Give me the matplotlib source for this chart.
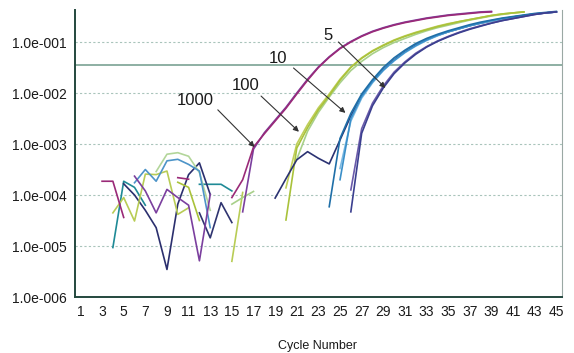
import numpy as np
import matplotlib.pyplot as plt

nan = np.nan

# amplification curves, log10 of fluorescence, one value per cycle from the start cycle
# 1000 copies
m1000a_start = 3
m1000a_log = [-3.73, -3.73, -4.44, nan, nan, nan, nan, -3.66, -3.69, nan, nan, nan,
              -4.05, -3.7, -3.06, -2.8, -2.55, -2.3, -2.02, -1.75, -1.5, -1.3, -1.13,
              -1.0, -0.89, -0.8, -0.73, -0.67, -0.62, -0.58, -0.54, -0.51, -0.48, -0.46,
              -0.44, -0.42, -0.41]
p1000b_start = 6
p1000b_log = [-3.63, -3.92, -4.35, -3.89, -4.05, -4.2, -5.29, -3.99, nan, nan, -4.33, -3.1,
              -2.78, -2.53, -2.28, -2.0, -1.73, -1.49, -1.29, -1.12, -0.99, -0.88, -0.79,
              -0.72, -0.66, -0.61, -0.57, -0.53, -0.5, -0.47, -0.45, -0.43, -0.41, -0.4]

# 100 copies
y100a_start = 20
y100a_log = [-4.49, -3.08, -2.68, -2.33, -2.05, -1.75, -1.5, -1.32, -1.18, -1.07, -0.97,
             -0.89, -0.82, -0.76, -0.7, -0.65, -0.6, -0.56, -0.52, -0.48, -0.45, -0.43, -0.41]
y100b_start = 20
y100b_log = [-3.86, -3.0, -2.62, -2.29, -2.02, -1.73, -1.49, -1.31, -1.17, -1.06, -0.96,
             -0.88, -0.81, -0.75, -0.69, -0.64, -0.6, -0.56, -0.52, -0.48, -0.45, -0.43, -0.41]
g100c_start = 15
g100c_log = [-4.18, -4.05, -3.93, nan, nan, nan, -3.3, -2.75, -2.38, -2.08, -1.8, -1.56,
             -1.38, -1.23, -1.11, -1.01, -0.93, -0.85, -0.78, -0.72, -0.67, -0.62, -0.57,
             -0.53, -0.49, -0.46, -0.43, -0.41]

# 10 copies
b10a_start = 24
b10a_log = [-4.23, -2.89, -2.4, -2.02, -1.74, -1.5, -1.31, -1.16, -1.03, -0.93, -0.85,
            -0.78, -0.72, -0.66, -0.61, -0.57, -0.53, -0.5, -0.47, -0.44, -0.42, -0.4]
lb10b_start = 25
lb10b_log = [-3.48, -2.55, -2.1, -1.8, -1.56, -1.37, -1.21, -1.08, -0.97, -0.88, -0.8,
             -0.74, -0.68, -0.63, -0.59, -0.55, -0.51, -0.48, -0.45, -0.43, -0.41]
mb10c_start = 25
mb10c_log = [-3.7, -2.5, -2.07, -1.78, -1.55, -1.36, -1.2, -1.07, -0.96, -0.87, -0.8,
             -0.74, -0.68, -0.63, -0.58, -0.54, -0.51, -0.48, -0.45, -0.43, -0.41]
n10d_start = 19
n10d_log = [-4.06, -3.68, -3.31, -3.15, -3.28, -3.39, -2.92, -2.45, -2.06, -1.77, -1.54,
            -1.35, -1.19, -1.06, -0.96, -0.87, -0.8, -0.74, -0.68, -0.63, -0.59, -0.55,
            -0.51, -0.48, -0.45, -0.43, -0.41]

# 5 copies
n5a_start = 26
n5a_log = [-4.33, -2.79, -2.25, -1.9, -1.62, -1.41, -1.24, -1.1, -0.99, -0.9, -0.82,
           -0.75, -0.69, -0.63, -0.58, -0.54, -0.5, -0.46, -0.43, -0.41]
v5b_start = 26
v5b_log = [-3.9, -2.7, -2.2, -1.86, -1.59, -1.39, -1.22, -1.09, -0.98, -0.89, -0.81,
           -0.74, -0.68, -0.63, -0.58, -0.54, -0.5, -0.46, -0.43, -0.41]

# baseline noise
teal_start = 4
teal_log = [-5.03, -3.73, -3.85, -4.2, nan, nan, nan, nan, -3.79, -3.79, -3.79, -3.92]
navy_start = 5
navy_log = [-3.78, -4.0, -4.3, -4.64, -5.46, -4.18, -3.6, -3.37, -3.99]
navy2_start = 12
navy2_log = [-4.35, -4.84, -4.15, -4.54]
yg_start = 4
yg_log = [-4.35, -4.05, -4.51, -3.59, -3.6, -3.53, -4.38, -4.25, nan, nan, nan, -5.3, -3.95]
yg2_start = 10
yg2_log = [-3.75, -3.85, -4.5]
lg_start = 8
lg_log = [-3.54, -3.2, -3.17, -3.24, -3.56, -4.3]
bl_start = 6
bl_log = [-3.76, -3.5, -3.73, -3.33, -3.3, -3.4, -3.53, -4.64]

threshold = 0.035

curves = [
    (teal_start, teal_log, '#1f8a96'),
    (navy_start, navy_log, '#2b2f6e'),
    (navy2_start, navy2_log, '#2f3470'),
    (yg_start, yg_log, '#b8cc55'),
    (yg2_start, yg2_log, '#a9c23a'),
    (lg_start, lg_log, '#b3d69a'),
    (bl_start, bl_log, '#4d94c8'),
    (g100c_start, g100c_log, '#a8d08a'),
    (y100b_start, y100b_log, '#c0cf5a'),
    (y100a_start, y100a_log, '#a9c23a'),
    (n10d_start, n10d_log, '#2b3272'),
    (lb10b_start, lb10b_log, '#7ab8e2'),
    (mb10c_start, mb10c_log, '#3a8fc9'),
    (b10a_start, b10a_log, '#1f6fa8'),
    (v5b_start, v5b_log, '#6a5aaa'),
    (n5a_start, n5a_log, '#3b3f8f'),
    (p1000b_start, p1000b_log, '#7b3f9e'),
    (m1000a_start, m1000a_log, '#9a2a78'),
]

plt.rcParams['font.family'] = ['Liberation Sans', 'DejaVu Sans']

fig = plt.figure(figsize=(5.74, 3.53), dpi=100)
ax = fig.add_axes([0.1307, 0.1586, 0.848, 0.813])

for start, vals, col in curves:
    x = np.arange(start, start + len(vals))
    ax.plot(x, 10 ** np.array(vals), color=col, linewidth=1.2, zorder=3)

ax.set_yscale('log')
ax.set_ylim(1e-6, 10 ** -0.373)
ax.set_xlim(0.5, 45.5)

decades = [1e-6, 1e-5, 1e-4, 1e-3, 1e-2, 1e-1]
ax.set_yticks(decades)
ax.set_yticklabels(['1.0e-006', '1.0e-005', '1.0e-004', '1.0e-003', '1.0e-002', '1.0e-001'])
ax.minorticks_off()
ax.set_xticks(range(1, 46, 2))
ax.tick_params(length=0, labelsize=10, colors='#1a1a1a', pad=6)

for d in decades[1:]:
    ax.axhline(d, color='#a9c4bb', linestyle=(0, (2, 2)), linewidth=0.8, zorder=1)
ax.axhline(threshold, color='#6f9a8a', linewidth=1.1, zorder=2)

ax.spines['top'].set_visible(False)
ax.spines['left'].set_color('#24483e')
ax.spines['left'].set_linewidth(1.4)
ax.spines['bottom'].set_color('#24483e')
ax.spines['bottom'].set_linewidth(1.4)
ax.spines['right'].set_color('#9aa8a4')

fig.text(0.554, 0.02, 'Cycle Number', fontsize=9, ha='center', va='center', color='#1a1a1a')

# dilution labels with arrows
labels = [
    ('1000', (11.6, 10 ** -2.14), (13.7, 10 ** -2.33), (17.1, 10 ** -3.06)),
    ('100', (16.3, 10 ** -1.86), (17.7, 10 ** -2.06), (21.2, 10 ** -2.76)),
    ('10', (19.3, 10 ** -1.33), (20.7, 10 ** -1.51), (25.5, 10 ** -2.39)),
    ('5', (23.9, 10 ** -0.88), (24.85, 10 ** -1.0), (29.2, 10 ** -1.9)),
]
for txt, pos, tail, head in labels:
    ax.text(pos[0], pos[1], txt, fontsize=12, ha='center', va='center', color='#1a1a1a', zorder=5)
    ax.annotate('', xy=head, xytext=tail,
                arrowprops=dict(arrowstyle='-|>', color='#333333', lw=0.8,
                                mutation_scale=8, shrinkA=0, shrinkB=0), zorder=5)

fig.savefig('out.png', dpi=100)
